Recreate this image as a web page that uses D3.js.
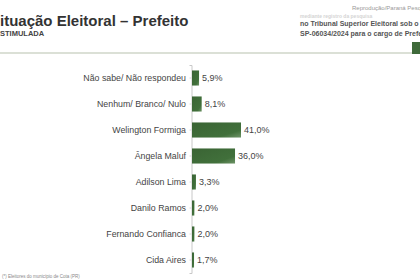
<!DOCTYPE html>
<html>
<head>
<meta charset="utf-8">
<script src="https://cdn.jsdelivr.net/npm/d3@7"></script>
<style>
  body { margin: 0; background: #fff; }
  svg { display: block; font-family: "Liberation Sans", Arial, sans-serif; }
</style>
</head>
<body>
<svg id="chart"></svg>
<script>
const categories = ["Não sabe/ Não respondeu", "Nenhum/ Branco/ Nulo", "Welington Formiga", "Ângela Maluf",
  "Adilson Lima", "Danilo Ramos", "Fernando Confianca", "Cida Aires"]
const values = [5.9, 8.1, 41.0, 36.0, 3.3, 2.0, 2.0, 1.7]
const valueLabels = ["5,9%", "8,1%", "41,0%", "36,0%", "3,3%", "2,0%", "2,0%", "1,7%"]

const width = 420
const height = 280

const svg = d3.select("#chart")
  .attr("width", width)
  .attr("height", height)

// gradient for the bars
const grad = svg.append("defs").append("linearGradient")
  .attr("id", "barGrad")
  .attr("x1", "0%").attr("y1", "0%").attr("x2", "100%").attr("y2", "100%")
grad.append("stop").attr("offset", "0%").attr("stop-color", "#3a6434")
grad.append("stop").attr("offset", "75%").attr("stop-color", "#41703b")
grad.append("stop").attr("offset", "100%").attr("stop-color", "#6f9468")

// header
svg.append("text")
  .attr("x", -10).attr("y", 26)
  .attr("font-size", 15).attr("font-weight", "bold").attr("fill", "#333")
  .text("Situação Eleitoral – Prefeito")
svg.append("text")
  .attr("x", -5).attr("y", 36)
  .attr("font-size", 7.5).attr("font-weight", "bold").attr("fill", "#444")
  .text("ESTIMULADA")

svg.append("text")
  .attr("x", 352).attr("y", 10)
  .attr("font-size", 6).attr("fill", "#999")
  .text("Reprodução/Paraná Pesquisas")
svg.append("text")
  .attr("x", 300).attr("y", 17.5)
  .attr("font-size", 5).attr("font-weight", "bold").attr("fill", "#d4d4d4")
  .text("mediante registro da pesquisa")
svg.append("text")
  .attr("x", 300).attr("y", 26)
  .attr("font-size", 7).attr("font-weight", "bold").attr("fill", "#555")
  .text("no Tribunal Superior Eleitoral sob o")
svg.append("text")
  .attr("x", 300).attr("y", 36)
  .attr("font-size", 7).attr("font-weight", "bold").attr("fill", "#555")
  .text("SP-06034/2024 para o cargo de Prefeito")

svg.append("line")
  .attr("x1", 0).attr("x2", 412).attr("y1", 53).attr("y2", 53)
  .attr("stroke", "#cfd6c8").attr("stroke-width", 1.5)
svg.append("rect")
  .attr("x", 412).attr("y", 42).attr("width", 8).attr("height", 12)
  .attr("fill", "#3f6a3a")

// scales
const y = d3.scaleBand()
  .domain(categories)
  .range([65, 273])
  .paddingInner(0.42)
  .paddingOuter(0.21)

const x = d3.scaleLinear()
  .domain([0, 41])
  .range([192, 241])

// axis line
svg.append("g")
  .attr("transform", "translate(191.5,0)")
  .call(d3.axisLeft(y).tickSize(2).tickFormat(""))
  .call(g => g.select(".domain").attr("stroke", "#c8c8c8"))
  .call(g => g.selectAll(".tick line").attr("stroke", "#d8d8d8"))

svg.selectAll("rect.bar")
  .data(values)
  .enter()
  .append("rect")
  .attr("class", "bar")
  .attr("x", x(0))
  .attr("y", (d, i) => y(categories[i]))
  .attr("width", d => x(d) - x(0))
  .attr("height", y.bandwidth())
  .attr("fill", "url(#barGrad)")

svg.selectAll("text.cat")
  .data(categories)
  .enter()
  .append("text")
  .attr("class", "cat")
  .attr("x", 186)
  .attr("y", d => y(d) + y.bandwidth() / 2)
  .attr("dy", "0.35em")
  .attr("text-anchor", "end")
  .attr("font-size", 8.8)
  .attr("fill", "#444")
  .text(d => d)

svg.selectAll("text.val")
  .data(values)
  .enter()
  .append("text")
  .attr("class", "val")
  .attr("x", d => x(d) + 3)
  .attr("y", (d, i) => y(categories[i]) + y.bandwidth() / 2)
  .attr("dy", "0.35em")
  .attr("font-size", 9)
  .attr("fill", "#444")
  .text((d, i) => valueLabels[i])

// footer
svg.append("text")
  .attr("x", 2).attr("y", 278)
  .attr("font-size", 4.5).attr("fill", "#888")
  .text("(*) Eleitores do município de Cota (PR)")
</script>
</body>
</html>
